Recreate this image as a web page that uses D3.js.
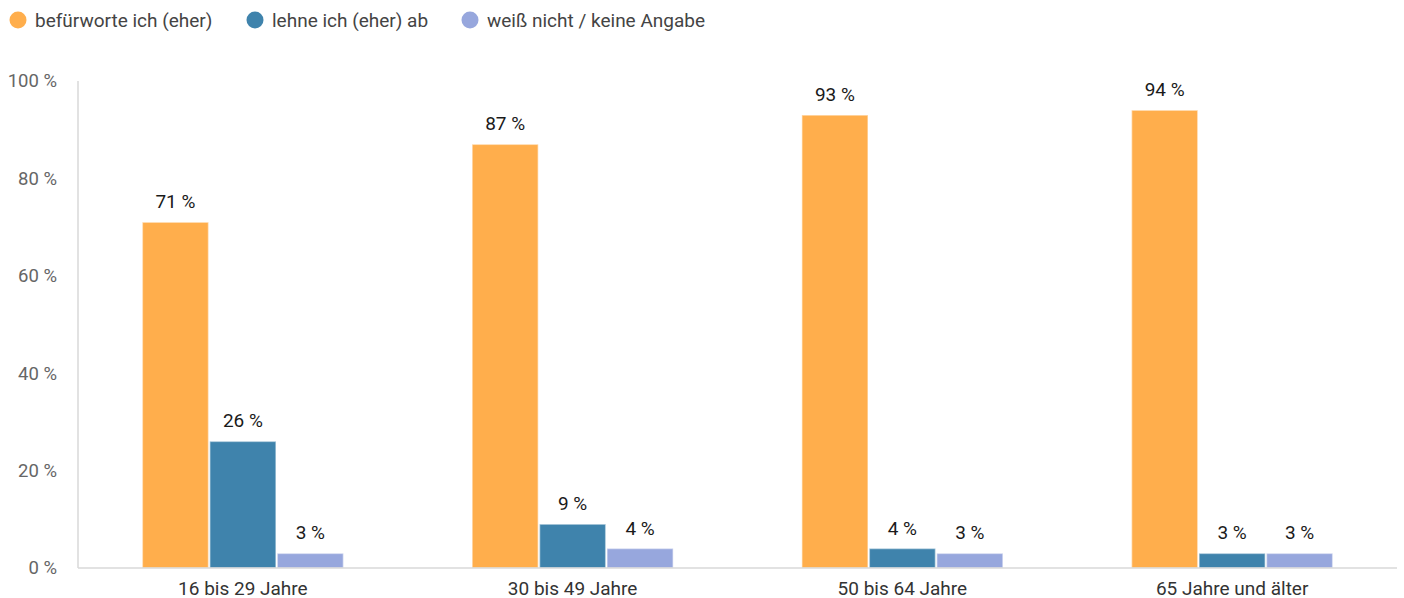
<!DOCTYPE html>
<html>
<head>
<meta charset="utf-8">
<script src="https://cdn.jsdelivr.net/npm/d3@7"></script>
<style>
  html, body { margin: 0; padding: 0; background: #fff; }
  svg { display: block; font-family: Roboto, "Noto Sans", sans-serif; }
</style>
</head>
<body>
<svg id="chart" width="1404" height="598"></svg>
<script>
// Age groups and answer shares (percent)
const categories = ["16 bis 29 Jahre", "30 bis 49 Jahre", "50 bis 64 Jahre", "65 Jahre und älter"];
const seriesNames = ["befürworte ich (eher)", "lehne ich (eher) ab", "weiß nicht / keine Angabe"];
const approve = [71, 87, 93, 94];
const reject = [26, 9, 4, 3];
const unknown = [3, 4, 3, 3];
const yTicks = [0, 20, 40, 60, 80, 100];
const colors = ["#FFAE4C", "#3F83AC", "#97A7DD"];

const seriesValues = [approve, reject, unknown];

const svg = d3.select("#chart");
const W = 1404;
const plotLeft = 78, plotRight = 1397, plotTop = 81, plotBottom = 568;

const x0 = d3.scaleBand()
  .domain(categories)
  .range([plotLeft, plotRight])
  .padding(0);

// bar cluster centred in each band
const clusterW = 201;
const x1 = d3.scaleBand()
  .domain(seriesNames)
  .range([(x0.bandwidth() - clusterW) / 2, (x0.bandwidth() + clusterW) / 2])
  .paddingInner(0.02);

const y = d3.scaleLinear().domain([0, 100]).range([plotBottom, plotTop]);

// Left axis line
svg.append("line")
  .attr("x1", plotLeft).attr("x2", plotLeft)
  .attr("y1", y(100)).attr("y2", plotBottom)
  .attr("stroke", "#d9d9d9").attr("stroke-width", 1.5);

// Y tick labels
const yAxis = d3.axisLeft(y).tickValues(yTicks).tickSize(0).tickPadding(21)
  .tickFormat(d => d + " %");
const gy = svg.append("g").attr("transform", `translate(${plotLeft},0)`).call(yAxis);
gy.select(".domain").remove();
gy.selectAll("text")
  .attr("fill", "#666")
  .style("font-size", "18.5px")
  .style("font-family", "Roboto, sans-serif");

// Bars
const rows = (c, i) => seriesNames.map((s, k) => ({ s, k, v: seriesValues[k][i] }));
const groups = svg.append("g").selectAll("g")
  .data(categories)
  .join("g")
  .attr("transform", d => `translate(${x0(d)},0)`);

groups.selectAll("rect")
  .data(rows)
  .join("rect")
  .attr("x", d => x1(d.s))
  .attr("y", d => y(d.v))
  .attr("width", x1.bandwidth())
  .attr("height", d => plotBottom - y(d.v))
  .attr("fill", d => colors[d.k])
  .attr("stroke", "rgba(255,255,255,0.45)")
  .attr("stroke-width", 1.5);

groups.selectAll("text.val")
  .data(rows)
  .join("text")
  .attr("class", "val")
  .attr("x", d => x1(d.s) + x1.bandwidth() / 2)
  .attr("y", d => y(d.v) - 14)
  .attr("text-anchor", "middle")
  .attr("fill", "#1a1a1a")
  .style("font-size", "19px")
  .text(d => d.v + " %");

// Baseline
svg.append("line")
  .attr("x1", plotLeft).attr("x2", plotRight)
  .attr("y1", plotBottom).attr("y2", plotBottom)
  .attr("stroke", "#d9d9d9").attr("stroke-width", 1.5);

// X axis labels
const xAxis = d3.axisBottom(x0).tickSize(0).tickPadding(14);
const gx = svg.append("g").attr("transform", `translate(0,${plotBottom})`).call(xAxis);
gx.select(".domain").remove();
gx.selectAll("text")
  .attr("fill", "#333")
  .style("font-size", "19px")
  .style("font-family", "Roboto, sans-serif");

// Legend
const legendX = [18, 255, 470];
const legend = svg.append("g").selectAll("g")
  .data(seriesNames)
  .join("g")
  .attr("transform", (d, i) => `translate(${legendX[i]},20)`);
legend.append("circle").attr("r", 8.5).attr("fill", (d, i) => colors[i]);
legend.append("text")
  .attr("x", 17).attr("dy", "0.35em")
  .attr("fill", "#444")
  .style("font-size", "19px")
  .text(d => d);
</script>
</body>
</html>
